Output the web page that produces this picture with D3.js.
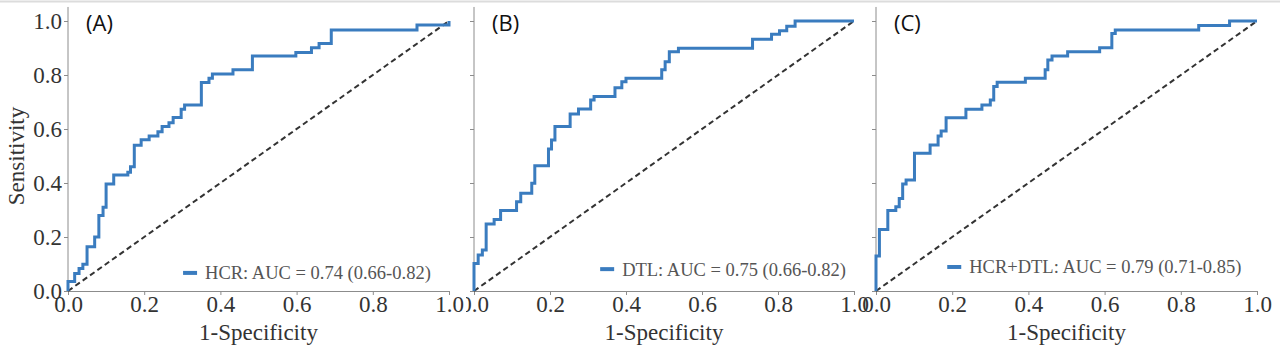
<!DOCTYPE html>
<html>
<head>
<meta charset="utf-8">
<script src="https://cdn.jsdelivr.net/npm/d3@7"></script>
<style>
  body { margin: 0; background: #fff; }
  svg { display: block; }
  .domain, .tick line { stroke: #8c8c8c; }
</style>
</head>
<body>
<svg id="chart"></svg>
<script>
// ROC curves: step points (1-specificity, sensitivity)
const fprA = [0, 0, 0.0175, 0.029, 0.039, 0.05, 0.07, 0.081, 0.092, 0.1, 0.12, 0.157, 0.164, 0.174, 0.192, 0.213, 0.236, 0.247, 0.265, 0.276, 0.297, 0.306, 0.35, 0.37, 0.379, 0.433, 0.484, 0.598, 0.639, 0.659, 0.691, 0.916, 1.0];
const tprA = [0, 0.035, 0.065, 0.083, 0.099, 0.164, 0.2, 0.28, 0.31, 0.396, 0.43, 0.44, 0.46, 0.54, 0.56, 0.574, 0.59, 0.609, 0.623, 0.643, 0.673, 0.689, 0.772, 0.788, 0.804, 0.819, 0.87, 0.883, 0.901, 0.917, 0.967, 0.985, 1.0];

const fprB = [0, 0, 0.011, 0.022, 0.032, 0.053, 0.07, 0.112, 0.123, 0.152, 0.16, 0.196, 0.204, 0.213, 0.253, 0.275, 0.307, 0.316, 0.371, 0.389, 0.4, 0.494, 0.503, 0.514, 0.538, 0.733, 0.783, 0.804, 0.823, 0.845, 1.0];
const tprB = [0, 0.102, 0.133, 0.152, 0.248, 0.265, 0.298, 0.331, 0.362, 0.399, 0.464, 0.526, 0.559, 0.609, 0.656, 0.674, 0.707, 0.72, 0.753, 0.775, 0.788, 0.819, 0.849, 0.886, 0.899, 0.932, 0.951, 0.964, 0.981, 1.0, 1.0];

const fprC = [0, 0, 0.009, 0.031, 0.052, 0.061, 0.07, 0.079, 0.101, 0.142, 0.163, 0.171, 0.184, 0.236, 0.278, 0.3, 0.309, 0.318, 0.392, 0.444, 0.451, 0.462, 0.503, 0.587, 0.619, 0.628, 0.847, 0.928, 1.0];
const tprC = [0, 0.13, 0.228, 0.298, 0.312, 0.343, 0.396, 0.411, 0.51, 0.541, 0.574, 0.593, 0.642, 0.673, 0.689, 0.707, 0.757, 0.773, 0.788, 0.819, 0.856, 0.87, 0.886, 0.901, 0.954, 0.967, 0.983, 1.0, 1.0];

const panelTags = ['(A)', '(B)', '(C)'];
const legendLabels = [
  'HCR: AUC = 0.74 (0.66-0.82)',
  'DTL: AUC = 0.75 (0.66-0.82)',
  'HCR+DTL: AUC = 0.79 (0.71-0.85)'
];
const tickValues = [0, 0.2, 0.4, 0.6, 0.8, 1.0];

const width = 1280;
const height = 347;
const blue = '#3a7cbf';
const serif = '"Liberation Serif", "Times New Roman", serif';

// panel placement (pixels)
const layout = [
  { left: 68, right: 449, legX: 0.302, legY: 0.067, clipFrom: 0 },
  { left: 474, right: 854, legX: 0.332, legY: 0.081, clipFrom: 466 },
  { left: 876, right: 1257, legX: 0.187, legY: 0.089, clipFrom: 0 }
];
const curves = [[fprA, tprA], [fprB, tprB], [fprC, tprC]];

const yScale = d3.scaleLinear().domain([0, 1]).range([291, 21]);

const chart = d3.select('#chart').attr('width', width).attr('height', height);

// thin grey rule along the top of the image
chart.append('line')
  .attr('x1', 0).attr('x2', width)
  .attr('y1', 1.5).attr('y2', 1.5)
  .attr('stroke', '#dcdcdc')
  .attr('stroke-width', 2);

chart.append('defs').selectAll('clipPath')
  .data(layout)
  .enter()
  .append('clipPath')
  .attr('id', (d, i) => `clip${i}`)
  .append('rect')
  .attr('x', d => d.clipFrom)
  .attr('y', 0)
  .attr('width', width)
  .attr('height', height);

layout.forEach((p, i) => {
  const xScale = d3.scaleLinear().domain([0, 1]).range([p.left, p.right]);
  const g = chart.append('g').attr('clip-path', `url(#clip${i})`);

  /* Bottom Axis */
  const botAxis = d3.axisBottom(xScale)
    .tickValues(tickValues)
    .tickFormat(d3.format('.1f'))
    .tickSize(4)
    .tickPadding(1)
    .tickSizeOuter(0);
  const ba = g.append('g')
    .attr('transform', `translate(0, ${yScale(0)})`)
    .call(botAxis);
  ba.selectAll('.tick text')
    .attr('font-family', serif)
    .attr('font-size', 23)
    .attr('fill', '#333');

  /* Left Axis */
  const leftAxis = d3.axisLeft(yScale)
    .tickValues(tickValues)
    .tickFormat(i === 0 ? d3.format('.1f') : '')
    .tickSize(4)
    .tickPadding(2)
    .tickSizeOuter(0);
  const la = g.append('g')
    .attr('transform', `translate(${p.left}, 0)`)
    .call(leftAxis);
  // spine runs a little past 1.0, as in the picture
  la.select('.domain').attr('d', `M0,${yScale(1.052)}V${yScale(0)}`);
  la.selectAll('.tick text')
    .attr('dy', '0.34em')
    .attr('font-family', serif)
    .attr('font-size', 23)
    .attr('fill', '#333');

  // chance line
  g.append('line')
    .attr('x1', xScale(0)).attr('y1', yScale(0))
    .attr('x2', xScale(1)).attr('y2', yScale(1))
    .attr('stroke', '#333')
    .attr('stroke-width', 2)
    .attr('stroke-dasharray', '5.5,3.5');

  // ROC curve
  const [fpr, tpr] = curves[i];
  const pts = fpr.map((f, k) => [f, tpr[k]]);
  const line = d3.line()
    .x(d => xScale(d[0]))
    .y(d => yScale(d[1]))
    .curve(d3.curveStepAfter);
  g.append('path')
    .attr('d', line(pts))
    .attr('fill', 'none')
    .attr('stroke', blue)
    .attr('stroke-width', 3);

  // panel tag
  g.append('text')
    .attr('x', p.left + 18)
    .attr('y', 31)
    .attr('font-family', '"Open Sans", "Noto Sans", sans-serif')
    .attr('font-size', 22)
    .attr('fill', '#111')
    .text(panelTags[i]);

  // legend
  const lx = xScale(p.legX);
  const ly = yScale(p.legY);
  g.append('line')
    .attr('x1', lx).attr('x2', lx + 14)
    .attr('y1', ly).attr('y2', ly)
    .attr('stroke', blue)
    .attr('stroke-width', 4);
  g.append('text')
    .attr('x', lx + 22)
    .attr('y', ly)
    .attr('dy', '0.35em')
    .attr('font-family', serif)
    .attr('font-size', 18.5)
    .attr('fill', '#555')
    .text(legendLabels[i]);

  // x label
  g.append('text')
    .attr('x', (p.left + p.right) / 2)
    .attr('y', 340)
    .attr('text-anchor', 'middle')
    .attr('font-family', serif)
    .attr('font-size', 23)
    .attr('fill', '#333')
    .text('1-Specificity');
});

// y label
chart.append('text')
  .attr('transform', `translate(24, ${yScale(0.5)}) rotate(-90)`)
  .attr('text-anchor', 'middle')
  .attr('font-family', serif)
  .attr('font-size', 23)
  .attr('fill', '#333')
  .text('Sensitivity');
</script>
</body>
</html>
